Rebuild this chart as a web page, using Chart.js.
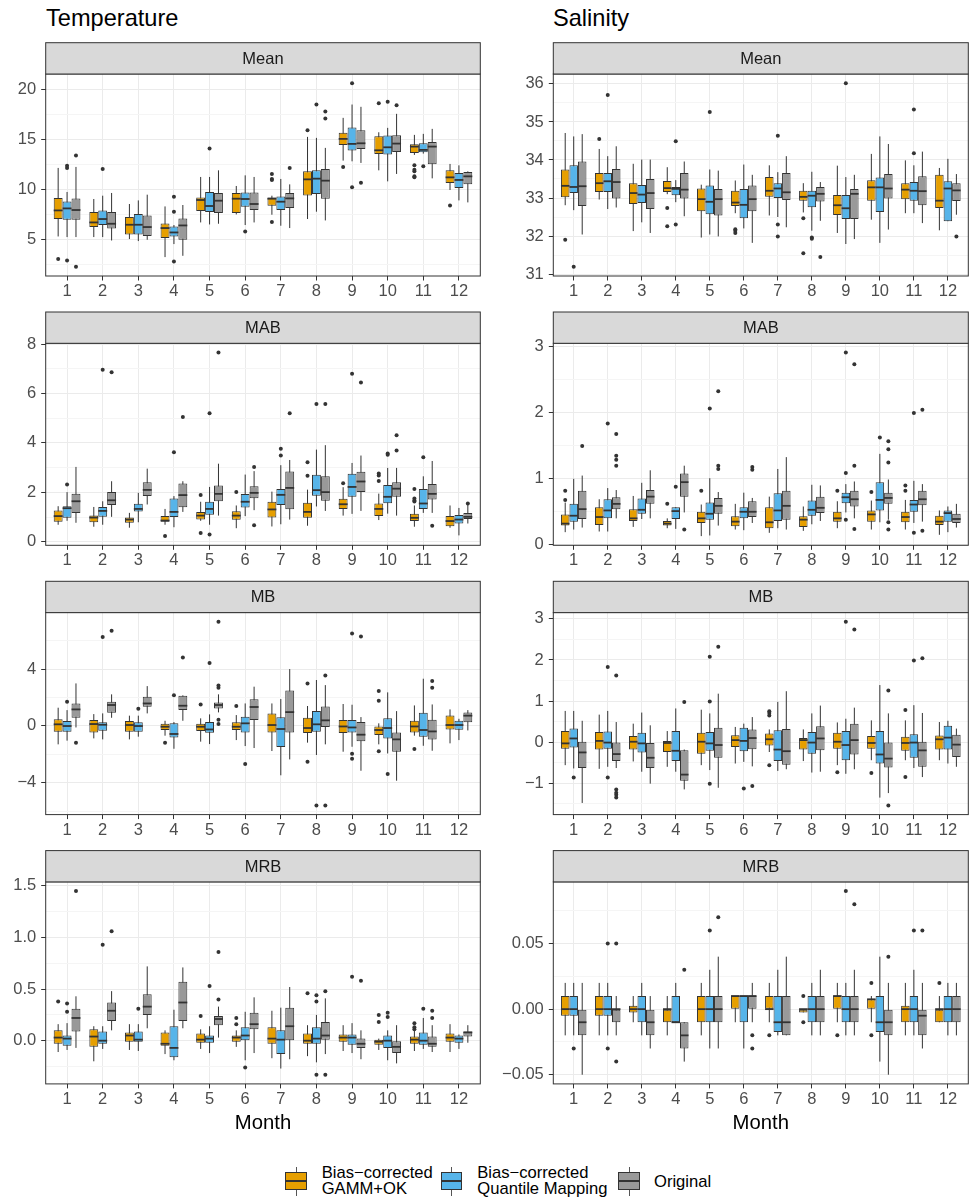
<!DOCTYPE html>
<html>
<head>
<meta charset="utf-8">
<title>Monthly bias statistics</title>
<script src="https://cdn.jsdelivr.net/npm/chart.js@4.4.1/dist/chart.umd.min.js"></script>
<style>
  html, body { margin: 0; padding: 0; background: #ffffff; }
  #fig { position: relative; width: 970px; height: 1201px; overflow: hidden; font-family: "Liberation Sans", Arial, sans-serif; }
  #fig canvas { position: absolute; }
  .title { position: absolute; font-size: 23.6px; line-height: 23.6px; color: #000; white-space: nowrap; }
  .xtitle { position: absolute; font-size: 20.3px; line-height: 20.3px; color: #000; width: 200px; text-align: center; }
  .lg-text { position: absolute; font-size: 16.6px; line-height: 16px; color: #000; white-space: pre-line; }
  .lg-whisker { position: absolute; width: 1px; background: #555; }
  .lg-box { position: absolute; box-sizing: border-box; border: 1px solid #333; }
  .lg-med { position: absolute; height: 1.6px; background: #333; }
</style>
</head>
<body>
<div id="fig"></div>
<script>
// ---- categories, series and tick labels ----
const MONTHS = [1, 2, 3, 4, 5, 6, 7, 8, 9, 10, 11, 12];
const SERIES = ["Bias−corrected\nGAMM+OK", "Bias−corrected\nQuantile Mapping", "Original"];
const FILLS = ["#E69F00", "#56B4E9", "#999999"];
const COLUMN_TITLES = ["Temperature", "Salinity"];
const X_TITLE = "Month";

// Each row: [lower whisker, Q1, median, Q3, upper whisker, [outliers]]
// ---- Temperature: Mean ----
const T_MEAN_GAMM = [
  [5.33, 7.07, 7.93, 9.17, 12.17, [3.07]],
  [5.27, 6.27, 6.73, 7.77, 9.07, []],
  [5.07, 5.53, 6.5, 7.27, 8.57, []],
  [3.27, 5.17, 6.17, 6.63, 8.33, []],
  [6.73, 7.87, 8.97, 9.23, 11.27, []],
  [7.53, 7.67, 9.1, 9.67, 10.37, []],
  [7.5, 8.4, 9.1, 9.23, 9.4, [11.57, 11.07, 10.97, 6.77]],
  [7.07, 9.43, 11.03, 11.83, 15.27, [15.93]],
  [12.9, 14.47, 15.07, 15.67, 17.17, [12.27]],
  [11.93, 13.57, 13.93, 15.33, 15.73, [18.63]],
  [13.47, 13.67, 14.3, 14.53, 15.47, [12.43, 12.0, 11.83, 11.33, 11.23]],
  [9.97, 10.67, 11.23, 11.93, 12.57, [8.43]]
];
const T_MEAN_QM = [
  [5.27, 7.0, 8.13, 8.83, 9.77, [12.4, 12.17, 2.93]],
  [5.27, 6.47, 7.07, 7.93, 9.4, [12.07]],
  [4.87, 5.53, 6.5, 7.57, 8.93, []],
  [4.57, 5.33, 5.73, 6.33, 6.47, [9.3, 7.8, 2.83]],
  [6.53, 7.77, 8.37, 9.77, 11.27, [14.1]],
  [6.47, 8.3, 9.07, 9.73, 11.43, [5.83]],
  [6.4, 7.97, 8.8, 9.33, 11.07, []],
  [7.8, 9.57, 11.1, 11.93, 15.17, [18.5]],
  [12.83, 13.9, 14.57, 16.2, 18.5, [20.63, 10.23]],
  [10.83, 13.5, 14.23, 15.4, 16.17, [18.77]],
  [13.6, 13.73, 13.97, 14.63, 15.57, [12.33]],
  [8.93, 10.17, 10.97, 11.67, 12.43, []]
];
const T_MEAN_ORIG = [
  [5.27, 7.0, 7.97, 9.13, 12.27, [13.4, 2.3]],
  [4.93, 6.13, 6.6, 7.77, 9.67, []],
  [5.0, 5.37, 6.27, 7.43, 9.5, []],
  [3.4, 5.0, 6.43, 7.13, 8.47, []],
  [6.6, 7.67, 8.9, 9.67, 11.93, []],
  [6.73, 7.97, 8.57, 9.73, 11.27, []],
  [6.17, 8.17, 9.13, 9.67, 10.53, [12.17]],
  [6.93, 9.1, 10.9, 12.07, 14.17, [17.8, 17.1]],
  [12.67, 14.07, 14.63, 15.93, 18.27, [10.7]],
  [11.57, 13.77, 14.6, 15.43, 17.57, [18.43]],
  [11.13, 12.53, 14.3, 14.77, 16.07, []],
  [8.73, 10.53, 11.33, 11.77, 11.83, []]
];

// ---- Salinity: Mean ----
const S_MEAN_GAMM = [
  [32.81, 33.02, 33.32, 33.75, 34.71, [31.9]],
  [32.96, 33.16, 33.39, 33.66, 34.29, [34.55]],
  [32.13, 32.84, 33.13, 33.39, 33.9, []],
  [33.1, 33.16, 33.26, 33.45, 33.81, [32.74, 32.26]],
  [31.96, 32.65, 32.97, 33.25, 33.35, []],
  [32.6, 32.79, 32.88, 33.19, 33.46, [32.18, 32.14, 32.08]],
  [32.54, 33.03, 33.19, 33.55, 33.86, []],
  [32.62, 32.93, 33.03, 33.19, 33.39, [32.47, 31.55]],
  [32.08, 32.55, 32.81, 33.08, 33.85, []],
  [32.43, 32.93, 33.28, 33.47, 34.16, []],
  [32.6, 32.97, 33.22, 33.39, 33.99, []],
  [32.15, 32.74, 32.93, 33.61, 33.79, []]
];
const S_MEAN_QM = [
  [32.68, 33.13, 33.29, 33.86, 34.62, [31.19]],
  [32.71, 33.16, 33.44, 33.66, 34.1, [35.71]],
  [32.36, 32.87, 33.09, 33.34, 34.01, []],
  [32.89, 33.07, 33.24, 33.29, 33.47, [34.49, 32.3]],
  [32.04, 32.57, 32.9, 33.33, 33.75, [35.26]],
  [32.2, 32.47, 32.82, 33.24, 33.88, []],
  [32.5, 33.0, 33.25, 33.39, 33.68, [34.64, 32.3, 31.99]],
  [32.14, 32.76, 33.06, 33.19, 33.69, [31.96, 31.93]],
  [31.79, 32.45, 32.73, 33.08, 33.55, [36.02]],
  [31.82, 32.63, 33.28, 33.54, 34.62, []],
  [32.6, 32.93, 33.19, 33.42, 33.86, [35.33, 34.18]],
  [32.39, 32.39, 33.25, 33.44, 34.03, []]
];
const S_MEAN_ORIG = [
  [32.04, 32.79, 33.31, 33.96, 34.68, []],
  [32.75, 32.99, 33.42, 33.76, 34.36, []],
  [32.08, 32.71, 33.13, 33.5, 34.01, []],
  [32.52, 32.99, 33.22, 33.66, 33.96, []],
  [31.99, 32.54, 32.97, 33.24, 33.72, []],
  [31.82, 32.65, 32.97, 33.33, 33.61, []],
  [32.23, 32.95, 33.15, 33.66, 34.1, []],
  [32.4, 32.91, 33.11, 33.29, 33.42, [31.45]],
  [31.92, 32.45, 33.11, 33.24, 33.61, []],
  [32.17, 32.99, 33.25, 33.63, 34.42, []],
  [32.34, 32.81, 33.18, 33.57, 34.22, []],
  [32.56, 32.92, 33.2, 33.39, 33.63, [31.99]]
];

// ---- Temperature: MAB ----
const T_MAB_GAMM = [
  [0.69, 0.81, 1.04, 1.27, 1.44, []],
  [0.61, 0.79, 0.98, 1.06, 1.41, []],
  [0.57, 0.77, 0.9, 0.98, 1.17, []],
  [0.69, 0.81, 0.86, 1.04, 1.33, [0.23]],
  [0.85, 0.9, 1.06, 1.21, 1.62, [1.89, 0.36]],
  [0.55, 0.89, 1.06, 1.24, 1.47, [2.01]],
  [0.62, 0.98, 1.31, 1.62, 2.03, []],
  [0.65, 0.97, 1.21, 1.58, 2.11, [3.22, 2.67]],
  [1.06, 1.33, 1.52, 1.74, 2.21, [2.37]],
  [0.88, 1.04, 1.33, 1.55, 1.95, [2.76, 2.68, 2.46]],
  [0.61, 0.84, 0.97, 1.13, 1.47, [2.14, 1.75, 1.67, 1.63]],
  [0.57, 0.63, 0.84, 1.04, 1.47, []]
];
const T_MAB_QM = [
  [0.85, 0.97, 1.36, 1.44, 2.01, [2.32]],
  [0.69, 1.01, 1.25, 1.41, 1.64, [6.96]],
  [0.79, 1.23, 1.33, 1.54, 1.98, []],
  [0.59, 1.0, 1.21, 1.75, 1.85, [3.62]],
  [0.69, 1.09, 1.33, 1.62, 2.22, [5.2, 0.3]],
  [1.04, 1.39, 1.62, 1.93, 2.72, []],
  [0.71, 1.49, 1.9, 2.14, 3.1, [3.76, 3.49]],
  [1.43, 1.86, 2.09, 2.71, 3.73, [5.58]],
  [1.13, 1.82, 2.22, 2.75, 3.19, [6.8]],
  [1.14, 1.56, 1.82, 2.3, 2.99, [3.57, 3.52]],
  [1.17, 1.33, 1.55, 2.14, 2.65, [3.42]],
  [0.26, 0.74, 0.9, 1.08, 1.37, []]
];
const T_MAB_ORIG = [
  [0.77, 1.17, 1.64, 1.94, 3.03, []],
  [1.01, 1.49, 1.68, 2.01, 2.45, [6.86]],
  [1.51, 1.85, 2.1, 2.41, 2.96, []],
  [1.21, 1.4, 1.89, 2.36, 2.45, [5.05]],
  [1.06, 1.64, 1.94, 2.28, 3.16, [7.66]],
  [1.28, 1.76, 1.98, 2.25, 2.86, [3.03, 0.67]],
  [0.9, 1.32, 2.18, 2.84, 3.31, [5.2]],
  [1.25, 1.66, 2.01, 2.65, 3.91, [5.58]],
  [1.25, 2.02, 2.44, 2.83, 3.49, [6.45]],
  [1.06, 1.82, 2.15, 2.41, 2.99, [4.31, 3.69]],
  [1.17, 1.71, 1.94, 2.34, 3.27, [0.65]],
  [0.74, 0.92, 1.01, 1.17, 1.51, [1.55]]
];

// ---- Salinity: MAB ----
const S_MAB_GAMM = [
  [0.18, 0.28, 0.31, 0.45, 0.63, [0.81, 0.67]],
  [0.19, 0.29, 0.41, 0.56, 0.68, []],
  [0.26, 0.35, 0.39, 0.53, 0.73, []],
  [0.24, 0.28, 0.31, 0.35, 0.39, [0.61]],
  [0.12, 0.32, 0.39, 0.49, 0.6, [0.81]],
  [0.22, 0.27, 0.34, 0.42, 0.61, []],
  [0.17, 0.24, 0.33, 0.56, 0.72, []],
  [0.2, 0.26, 0.37, 0.42, 0.57, []],
  [0.24, 0.34, 0.39, 0.49, 0.65, [0.81]],
  [0.22, 0.34, 0.45, 0.51, 0.66, [0.79]],
  [0.22, 0.33, 0.41, 0.49, 0.67, [0.89, 0.81]],
  [0.14, 0.29, 0.34, 0.43, 0.51, []]
];
const S_MAB_QM = [
  [0.22, 0.34, 0.43, 0.61, 0.99, []],
  [0.19, 0.39, 0.51, 0.68, 0.85, [1.83]],
  [0.38, 0.46, 0.52, 0.69, 0.93, []],
  [0.23, 0.38, 0.5, 0.56, 0.56, [0.87]],
  [0.13, 0.37, 0.46, 0.63, 1.0, [2.06]],
  [0.21, 0.39, 0.49, 0.56, 0.78, []],
  [0.24, 0.35, 0.51, 0.77, 1.14, []],
  [0.3, 0.43, 0.52, 0.66, 0.9, []],
  [0.48, 0.62, 0.71, 0.78, 0.91, [2.91, 1.08, 0.37]],
  [0.33, 0.51, 0.67, 0.94, 1.37, [1.62]],
  [0.32, 0.49, 0.6, 0.67, 0.96, [1.99, 0.17]],
  [0.18, 0.34, 0.47, 0.51, 0.57, []]
];
const S_MAB_ORIG = [
  [0.25, 0.38, 0.53, 0.81, 1.04, [1.49]],
  [0.39, 0.53, 0.61, 0.71, 0.82, [1.67, 1.34, 1.28, 1.19]],
  [0.39, 0.61, 0.72, 0.82, 1.12, []],
  [0.48, 0.72, 0.94, 1.07, 1.19, [0.22]],
  [0.28, 0.46, 0.58, 0.7, 0.79, [2.32, 1.19, 1.14]],
  [0.32, 0.41, 0.49, 0.65, 0.7, [1.17, 1.13]],
  [0.22, 0.37, 0.58, 0.81, 1.32, []],
  [0.35, 0.47, 0.55, 0.72, 0.89, []],
  [0.39, 0.57, 0.68, 0.81, 0.95, [2.73, 1.19, 0.23]],
  [0.37, 0.61, 0.7, 0.78, 0.98, [1.56, 1.44, 1.24, 0.33, 0.22]],
  [0.34, 0.59, 0.68, 0.81, 0.91, [2.04, 0.2]],
  [0.25, 0.32, 0.38, 0.46, 0.61, []]
];

// ---- Temperature: MB ----
const T_MB_GAMM = [
  [-1.3, -0.41, 0.11, 0.46, 1.28, []],
  [-0.88, -0.46, 0.13, 0.41, 0.83, []],
  [-0.95, -0.41, 0.06, 0.34, 0.72, []],
  [-0.69, -0.29, -0.06, 0.15, 0.36, [-1.18]],
  [-1.11, -0.36, -0.06, 0.15, 0.53, [1.51]],
  [-1.0, -0.29, -0.06, 0.25, 0.76, [1.4]],
  [-1.77, -0.46, 0.06, 0.88, 1.58, []],
  [-1.18, -0.5, -0.15, 0.57, 1.4, [2.99, -2.52]],
  [-1.82, -0.5, -0.04, 0.41, 1.54, []],
  [-1.3, -0.65, -0.29, -0.04, 0.18, [2.45, 1.77, -1.79]],
  [-0.69, -0.46, -0.04, 0.36, 1.44, [-1.63]],
  [-1.23, -0.25, 0.06, 0.74, 1.16, []]
];
const T_MB_QM = [
  [-1.04, -0.41, -0.01, 0.34, 1.11, [1.7]],
  [-0.95, -0.34, 0.08, 0.25, 0.88, [6.25]],
  [-0.76, -0.41, -0.01, 0.25, 0.72, [1.21]],
  [-1.61, -0.81, -0.57, 0.18, 0.27, [2.15]],
  [-1.28, -0.48, -0.25, 0.27, 0.81, [4.42]],
  [-1.42, -0.46, 0.18, 0.65, 1.58, [-2.69]],
  [-3.48, -1.49, -0.22, 0.6, 1.89, []],
  [-2.05, -0.41, 0.11, 1.04, 3.23, [-5.6]],
  [-1.47, -0.46, -0.11, 0.41, 1.49, [6.51, -1.96, -2.31]],
  [-1.94, -0.88, -0.15, 0.53, 2.36, [-3.39]],
  [-1.4, -0.76, -0.29, 0.93, 3.32, []],
  [-1.0, -0.27, 0.06, 0.36, 0.5, []]
];
const T_MB_ORIG = [
  [-0.11, 0.57, 1.16, 1.58, 2.99, [-1.18]],
  [0.57, 0.93, 1.47, 1.7, 2.22, [6.7]],
  [0.88, 1.35, 1.58, 2.05, 2.8, []],
  [0.36, 1.11, 1.42, 2.12, 2.15, [4.82]],
  [0.95, 1.23, 1.47, 1.65, 2.22, [7.33, 2.85, 2.69, 0.43, 0.13]],
  [-1.56, 0.41, 1.33, 1.87, 2.76, []],
  [-2.36, -0.46, 0.97, 2.5, 4.0, []],
  [-1.3, -0.08, 0.39, 1.37, 2.87, [3.55, -5.6]],
  [-3.16, -1.09, -0.62, 0.27, 0.62, [6.3]],
  [-3.86, -1.82, -0.95, -0.46, 1.04, []],
  [-1.75, -0.95, -0.39, 0.43, 1.51, [3.16, 2.69]],
  [-0.32, 0.25, 0.72, 0.95, 1.11, []]
];

// ---- Salinity: MB ----
const S_MB_GAMM = [
  [-0.56, -0.16, -0.03, 0.27, 0.76, []],
  [-0.65, -0.18, 0.03, 0.25, 0.67, []],
  [-0.47, -0.18, 0.01, 0.15, 0.45, []],
  [-0.6, -0.24, -0.02, 0.03, 0.27, []],
  [-0.56, -0.28, 0.01, 0.23, 0.79, []],
  [-0.52, -0.12, 0.05, 0.17, 0.37, []],
  [-0.24, -0.08, 0.07, 0.21, 0.31, [0.75, 0.71, 0.65, -0.56]],
  [-0.46, -0.18, 0.05, 0.1, 0.31, []],
  [-0.56, -0.16, 0.01, 0.23, 0.48, [-0.73]],
  [-0.44, -0.16, -0.02, 0.15, 0.53, [-0.75]],
  [-0.44, -0.21, -0.02, 0.13, 0.53, [0.78, -0.85]],
  [-0.44, -0.18, 0.07, 0.16, 0.49, []]
];
const S_MB_QM = [
  [-0.64, -0.13, 0.09, 0.33, 0.76, [-0.86]],
  [-0.6, -0.16, -0.01, 0.26, 0.76, [1.83, -0.86]],
  [-0.72, -0.25, -0.03, 0.23, 0.72, []],
  [-0.72, -0.46, -0.21, 0.27, 0.82, []],
  [-0.68, -0.21, -0.03, 0.25, 0.7, [2.08, 0.99, -1.01]],
  [-0.48, -0.22, 0.03, 0.35, 0.45, [-1.13]],
  [-0.7, -0.46, -0.18, 0.29, 0.98, []],
  [-0.74, -0.28, -0.01, 0.25, 0.7, []],
  [-0.77, -0.44, -0.07, 0.27, 0.57, [2.93]],
  [-1.35, -0.52, -0.3, 0.27, 1.39, []],
  [-0.63, -0.38, -0.01, 0.19, 0.9, [1.99]],
  [-0.52, -0.18, 0.11, 0.4, 0.52, []]
];
const S_MB_ORIG = [
  [-1.48, -0.63, -0.25, 0.01, 0.52, []],
  [-0.63, -0.46, -0.29, -0.01, 0.49, [1.62, -1.15, -1.23, -1.28, -1.35]],
  [-1.01, -0.63, -0.38, -0.02, 0.41, []],
  [-1.15, -0.94, -0.79, -0.2, -0.18, [0.98]],
  [-1.11, -0.38, -0.07, 0.35, 1.18, [2.32]],
  [-0.59, -0.17, 0.1, 0.31, 0.61, [-1.07]],
  [-0.66, -0.55, -0.22, 0.32, 1.24, []],
  [-0.72, -0.2, 0.09, 0.39, 0.89, []],
  [-0.66, -0.3, 0.05, 0.45, 0.84, [2.74]],
  [-1.24, -0.62, -0.4, -0.01, 0.7, [1.26, -1.54]],
  [-0.85, -0.6, -0.2, 0.01, 0.71, [2.04]],
  [-0.6, -0.36, -0.06, 0.18, 0.33, []]
];

// ---- Temperature: MRB ----
const T_MRB_GAMM = [
  [-0.11, -0.03, 0.03, 0.1, 0.16, [0.38]],
  [-0.2, -0.06, 0.04, 0.11, 0.14, []],
  [-0.09, -0.01, 0.05, 0.08, 0.16, []],
  [-0.13, -0.05, -0.03, 0.08, 0.1, []],
  [-0.08, -0.02, 0.01, 0.07, 0.11, [0.24]],
  [-0.06, -0.01, 0.03, 0.05, 0.1, [0.22, 0.16]],
  [-0.17, -0.03, 0.02, 0.13, 0.29, []],
  [-0.15, -0.03, 0.0, 0.07, 0.15, [0.46]],
  [-0.1, -0.01, 0.03, 0.06, 0.15, []],
  [-0.09, -0.04, -0.01, 0.01, 0.02, [0.25, 0.18]],
  [-0.1, -0.03, 0.01, 0.04, 0.1, [0.17, 0.13, 0.11]],
  [-0.11, -0.01, 0.03, 0.07, 0.16, []]
];
const T_MRB_QM = [
  [-0.09, -0.05, 0.02, 0.05, 0.17, [0.36, 0.28]],
  [-0.08, -0.03, 0.0, 0.09, 0.14, [0.93]],
  [-0.1, -0.01, 0.01, 0.09, 0.16, [0.31]],
  [-0.19, -0.16, -0.07, 0.14, 0.3, []],
  [-0.12, -0.02, 0.02, 0.05, 0.14, [0.53]],
  [-0.19, 0.0, 0.05, 0.13, 0.28, [-0.26]],
  [-0.27, -0.13, 0.01, 0.1, 0.32, []],
  [-0.21, -0.03, 0.02, 0.13, 0.25, [0.44, 0.38, -0.33]],
  [-0.12, -0.04, 0.03, 0.06, 0.17, [0.62]],
  [-0.19, -0.07, 0.0, 0.05, 0.1, [0.27, 0.23]],
  [-0.08, -0.04, 0.0, 0.08, 0.22, [0.31]],
  [-0.08, -0.02, 0.02, 0.05, 0.06, []]
];
const T_MRB_ORIG = [
  [-0.07, 0.09, 0.22, 0.31, 0.43, [1.45]],
  [0.1, 0.19, 0.29, 0.37, 0.48, [1.06]],
  [0.12, 0.25, 0.33, 0.45, 0.72, []],
  [0.12, 0.19, 0.37, 0.57, 0.71, []],
  [0.03, 0.15, 0.21, 0.24, 0.33, [0.86, 0.4]],
  [-0.12, 0.11, 0.16, 0.27, 0.42, []],
  [-0.18, 0.0, 0.14, 0.32, 0.52, []],
  [-0.13, 0.01, 0.05, 0.18, 0.41, [0.48, -0.33]],
  [-0.18, -0.07, -0.03, 0.02, 0.1, [0.58]],
  [-0.22, -0.12, -0.06, 0.0, 0.15, []],
  [-0.11, -0.06, -0.03, 0.04, 0.15, [0.29, 0.22]],
  [-0.02, 0.04, 0.08, 0.09, 0.15, []]
];

// ---- Salinity: MRB ----
const S_MRB_GAMM = [
  [-0.02, -0.005, 0, 0.01, 0.02, []],
  [-0.02, -0.005, 0, 0.01, 0.02, []],
  [-0.01, -0.0025, 0, 0.0025, 0.01, []],
  [-0.02, -0.01, 0, 0, 0.01, []],
  [-0.02, -0.01, 0, 0.01, 0.02, []],
  [-0.01, 0, 0.01, 0.01, 0.01, []],
  [-0.01, 0, 0, 0.01, 0.02, [-0.02]],
  [-0.0025, -0.0025, 0, 0, 0, [0.01, -0.01]],
  [-0.01, 0, 0.01, 0.01, 0.02, [-0.02]],
  [-0.01, 0, 0.0075, 0.0075, 0.01, [0.02, -0.02]],
  [-0.02, -0.01, 0, 0.0025, 0.02, []],
  [-0.01, -0.01, 0, 0, 0.01, [0.02]]
];
const S_MRB_QM = [
  [-0.02, -0.005, 0, 0.01, 0.02, [-0.03]],
  [-0.02, -0.005, 0, 0.01, 0.02, [0.05, -0.03]],
  [-0.02, -0.01, 0, 0.01, 0.02, []],
  [-0.01, -0.01, -0.01, 0.01, 0.02, []],
  [-0.03, -0.01, 0, 0.01, 0.03, [0.06]],
  [-0.03, -0.01, 0.01, 0.01, 0.01, []],
  [-0.02, -0.0175, -0.01, 0.01, 0.03, []],
  [-0.02, -0.01, 0, 0.01, 0.02, []],
  [-0.02, -0.01, 0, 0.01, 0.02, [0.09]],
  [-0.04, -0.0175, -0.01, 0.01, 0.04, []],
  [-0.02, -0.01, 0, 0.01, 0.03, [0.06]],
  [-0.02, -0.01, 0, 0.01, 0.02, []]
];
const S_MRB_ORIG = [
  [-0.05, -0.02, -0.01, 0, 0.02, []],
  [-0.02, -0.01, 0, 0, 0.01, [0.05, -0.04]],
  [-0.03, -0.02, -0.01, 0, 0.01, []],
  [-0.04, -0.03, -0.02, -0.01, -0.01, [0.03]],
  [-0.03, -0.01, 0, 0.01, 0.04, [0.07]],
  [-0.01, 0, 0.01, 0.01, 0.02, [-0.02, -0.03]],
  [-0.02, -0.02, -0.01, 0.01, 0.04, []],
  [-0.02, -0.01, 0, 0.01, 0.03, []],
  [-0.02, -0.01, 0, 0.01, 0.03, [0.08]],
  [-0.05, -0.02, -0.01, 0, 0.02, [0.04]],
  [-0.03, -0.02, -0.005, 0, 0.02, [0.06]],
  [-0.02, -0.01, 0, 0.01, 0.02, []]
];

// ---- y-axis breaks and their labels ----
const T_MEAN_TICKS = [5, 10, 15, 20];
const T_MEAN_LABELS = ["5", "10", "15", "20"];
const S_MEAN_TICKS = [31, 32, 33, 34, 35, 36];
const S_MEAN_LABELS = ["31", "32", "33", "34", "35", "36"];
const T_MAB_TICKS = [0, 2, 4, 6, 8];
const T_MAB_LABELS = ["0", "2", "4", "6", "8"];
const S_MAB_TICKS = [0, 1, 2, 3];
const S_MAB_LABELS = ["0", "1", "2", "3"];
const T_MB_TICKS = [-4, 0, 4];
const T_MB_LABELS = ["−4", "0", "4"];
const S_MB_TICKS = [-1, 0, 1, 2, 3];
const S_MB_LABELS = ["−1", "0", "1", "2", "3"];
const T_MRB_TICKS = [0, 0.5, 1, 1.5];
const T_MRB_LABELS = ["0.0", "0.5", "1.0", "1.5"];
const S_MRB_TICKS = [-0.05, 0, 0.05];
const S_MRB_LABELS = ["−0.05", "0.00", "0.05"];

const STRIPS = ["Mean", "MAB", "MB", "MRB"];

// ---- panel grid ----
const panels = [
  { col: 0, row: 0, sets: [T_MEAN_GAMM, T_MEAN_QM, T_MEAN_ORIG], ticks: T_MEAN_TICKS, labels: T_MEAN_LABELS },
  { col: 1, row: 0, sets: [S_MEAN_GAMM, S_MEAN_QM, S_MEAN_ORIG], ticks: S_MEAN_TICKS, labels: S_MEAN_LABELS },
  { col: 0, row: 1, sets: [T_MAB_GAMM, T_MAB_QM, T_MAB_ORIG], ticks: T_MAB_TICKS, labels: T_MAB_LABELS },
  { col: 1, row: 1, sets: [S_MAB_GAMM, S_MAB_QM, S_MAB_ORIG], ticks: S_MAB_TICKS, labels: S_MAB_LABELS },
  { col: 0, row: 2, sets: [T_MB_GAMM, T_MB_QM, T_MB_ORIG], ticks: T_MB_TICKS, labels: T_MB_LABELS },
  { col: 1, row: 2, sets: [S_MB_GAMM, S_MB_QM, S_MB_ORIG], ticks: S_MB_TICKS, labels: S_MB_LABELS },
  { col: 0, row: 3, sets: [T_MRB_GAMM, T_MRB_QM, T_MRB_ORIG], ticks: T_MRB_TICKS, labels: T_MRB_LABELS },
  { col: 1, row: 3, sets: [S_MRB_GAMM, S_MRB_QM, S_MRB_ORIG], ticks: S_MRB_TICKS, labels: S_MRB_LABELS }
];

// ---- layout ----
const FONT = '"Liberation Sans", Arial, sans-serif';
const AXIS_FONT_SIZE = 16.5;
const INK = '#333333';
const COLS = [
  { left: 0, width: 490, axisW: 45.7, padR: 9.7 },
  { left: 490, width: 480, axisW: 63.3, padR: 1.7 }
];
const FIRST_STRIP_TOP = 42.7, ROW_STEP = 269.3, STRIP_H = 31.3, PLOT_H = 202;
const CANVAS_H = 268, X_AXIS_H = 28;

const fig = document.getElementById('fig');

// box pieces (whiskers, medians, outliers) and the facet frame + strip
const boxParts = {
  id: 'boxParts',
  beforeDatasetsDraw(chart) {
    const ctx = chart.ctx, ys = chart.scales.y;
    ctx.save();
    ctx.strokeStyle = INK;
    ctx.lineWidth = 1;
    chart.data.datasets.forEach((ds, di) => {
      chart.getDatasetMeta(di).data.forEach((bar, i) => {
        const s = ds.stats[i];
        const { x } = bar.getProps(['x'], true);
        ctx.beginPath();
        ctx.moveTo(x, ys.getPixelForValue(s[0]));
        ctx.lineTo(x, ys.getPixelForValue(s[4]));
        ctx.stroke();
      });
    });
    ctx.restore();
  },
  afterDatasetsDraw(chart) {
    const ctx = chart.ctx, ys = chart.scales.y;
    ctx.save();
    chart.data.datasets.forEach((ds, di) => {
      chart.getDatasetMeta(di).data.forEach((bar, i) => {
        const s = ds.stats[i];
        const { x, width } = bar.getProps(['x', 'width'], true);
        const ym = ys.getPixelForValue(s[2]);
        ctx.strokeStyle = INK;
        ctx.lineWidth = 1.8;
        ctx.beginPath();
        ctx.moveTo(x - width / 2, ym);
        ctx.lineTo(x + width / 2, ym);
        ctx.stroke();
        ctx.fillStyle = INK;
        s[5].forEach(v => {
          ctx.beginPath();
          ctx.arc(x, ys.getPixelForValue(v), 2, 0, Math.PI * 2);
          ctx.fill();
        });
      });
    });
    ctx.restore();
  },
  afterDraw(chart, args, opts) {
    const { ctx, chartArea: a } = chart;
    ctx.save();
    ctx.lineWidth = 1;
    ctx.strokeStyle = INK;
    ctx.strokeRect(a.left, a.top, a.right - a.left, a.bottom - a.top);
    ctx.fillStyle = '#D9D9D9';
    ctx.fillRect(a.left, a.top - STRIP_H, a.right - a.left, STRIP_H);
    ctx.strokeRect(a.left, a.top - STRIP_H, a.right - a.left, STRIP_H);
    ctx.fillStyle = '#1A1A1A';
    ctx.font = AXIS_FONT_SIZE + 'px ' + FONT;
    ctx.textAlign = 'center';
    ctx.textBaseline = 'middle';
    ctx.fillText(opts.text, (a.left + a.right) / 2, a.top - STRIP_H / 2 + 1);
    ctx.restore();
  }
};

function minorBreaks(ticks, lo, hi) {
  const step = ticks[1] - ticks[0];
  const out = [ticks[0] - step / 2];
  for (let i = 0; i < ticks.length; i++) out.push(ticks[i] + step / 2);
  return out.filter(v => v >= lo && v <= hi);
}

panels.forEach(p => {
  const col = COLS[p.col];
  const stripTop = FIRST_STRIP_TOP + ROW_STEP * p.row;
  const canvasTop = Math.floor(stripTop) - 3;
  const padTop = stripTop + STRIP_H - canvasTop;
  const padBottom = CANVAS_H - (stripTop + STRIP_H + PLOT_H - canvasTop) - X_AXIS_H;

  const cv = document.createElement('canvas');
  cv.width = col.width;
  cv.height = CANVAS_H;
  cv.style.left = col.left + 'px';
  cv.style.top = canvasTop + 'px';
  fig.appendChild(cv);

  // y range: data extent widened by 5% on both sides
  const vals = p.sets.flatMap(rows => rows.flatMap(r => [r[0], r[4], ...r[5]]));
  const dMin = Math.min(...vals), dMax = Math.max(...vals);
  const ex = (dMax - dMin) * 0.05;
  const yMin = dMin - ex, yMax = dMax + ex;

  const minors = minorBreaks(p.ticks, yMin, yMax);
  const yTicks = p.ticks.concat(minors).sort((a, b) => a - b);
  const labelFor = v => {
    const k = p.ticks.findIndex(t => Math.abs(t - v) < 1e-9);
    return k >= 0 ? p.labels[k] : '';
  };
  const isMajorCtx = c => c.tick && p.ticks.some(t => Math.abs(t - c.tick.value) < 1e-9);

  new Chart(cv, {
    type: 'bar',
    data: {
      datasets: p.sets.map((rows, k) => ({
        label: SERIES[k],
        data: rows.map((r, i) => ({ x: MONTHS[i], y: [r[1], r[3]] })),
        stats: rows,
        backgroundColor: FILLS[k],
        borderColor: INK,
        borderWidth: 1,
        borderSkipped: false,
        categoryPercentage: 0.75,
        barPercentage: 1
      }))
    },
    options: {
      responsive: false,
      animation: false,
      events: [],
      layout: { padding: { top: padTop, right: col.padR, bottom: padBottom, left: 0 } },
      plugins: {
        legend: { display: false },
        tooltip: { enabled: false },
        boxParts: { text: STRIPS[p.row] }
      },
      scales: {
        x: {
          type: 'linear',
          min: 0.4,
          max: 12.6,
          offset: false,
          afterBuildTicks: s => { s.ticks = MONTHS.map(v => ({ value: v })); },
          afterFit: s => { s.height = X_AXIS_H; },
          ticks: {
            autoSkip: false,
            maxRotation: 0,
            padding: 1,
            color: '#4D4D4D',
            font: { family: FONT, size: AXIS_FONT_SIZE },
            callback: v => String(v)
          },
          grid: { offset: false, color: '#EBEBEB', lineWidth: 1, drawTicks: true, tickLength: 4.5, tickColor: INK, tickWidth: 1 },
          border: { display: false }
        },
        y: {
          type: 'linear',
          min: yMin,
          max: yMax,
          beginAtZero: false,
          afterBuildTicks: s => { s.ticks = yTicks.map(v => ({ value: v })); },
          afterFit: s => { s.width = col.axisW; },
          ticks: {
            autoSkip: false,
            padding: 5,
            color: '#4D4D4D',
            font: { family: FONT, size: AXIS_FONT_SIZE },
            callback: v => labelFor(v)
          },
          grid: {
            color: c => isMajorCtx(c) ? '#EBEBEB' : '#F5F5F5',
            lineWidth: 1,
            drawTicks: true,
            tickLength: 4.5,
            tickWidth: 1,
            tickColor: c => isMajorCtx(c) ? INK : 'rgba(0,0,0,0)'
          },
          border: { display: false }
        }
      }
    },
    plugins: [boxParts]
  });
});

// column titles and x-axis titles
COLUMN_TITLES.forEach((t, i) => {
  const d = document.createElement('div');
  d.className = 'title';
  d.textContent = t;
  d.style.left = (i === 0 ? 46 : 553) + 'px';
  d.style.top = '6.7px';
  fig.appendChild(d);
  const m = document.createElement('div');
  m.className = 'xtitle';
  m.textContent = X_TITLE;
  m.style.left = ((i === 0 ? 263 : 760.8) - 100) + 'px';
  m.style.top = '1111.8px';
  fig.appendChild(m);
});

// legend
const KEY_X = [285, 440.7, 618.3];
const TEXT_X = [321.7, 477.3, 654];
SERIES.forEach((name, i) => {
  const w = document.createElement('div');
  w.className = 'lg-whisker';
  w.style.left = (KEY_X[i] + 10.5) + 'px';
  w.style.top = '1166.7px';
  w.style.height = '29px';
  fig.appendChild(w);
  const b = document.createElement('div');
  b.className = 'lg-box';
  b.style.left = KEY_X[i] + 'px';
  b.style.top = '1172.3px';
  b.style.width = '21.7px';
  b.style.height = '17.7px';
  b.style.background = FILLS[i];
  fig.appendChild(b);
  const m = document.createElement('div');
  m.className = 'lg-med';
  m.style.left = KEY_X[i] + 'px';
  m.style.top = '1180.4px';
  m.style.width = '21.7px';
  fig.appendChild(m);
  const t = document.createElement('div');
  t.className = 'lg-text';
  t.textContent = name;
  t.style.left = TEXT_X[i] + 'px';
  t.style.top = (name.includes('\n') ? 1164.5 : 1174) + 'px';
  fig.appendChild(t);
});
</script>
</body>
</html>
